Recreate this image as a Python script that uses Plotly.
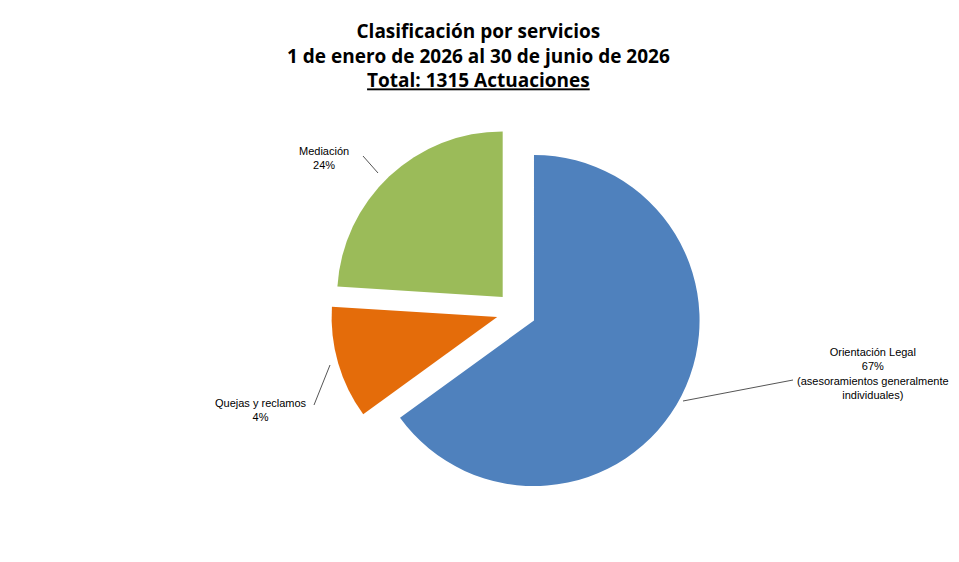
import plotly.graph_objects as go

categories = ["Orientación Legal", "Quejas y reclamos", "Mediación"]
values = [65, 11, 24]
label_text = ["Orientación Legal<br>67%<br>(asesoramientos generalmente<br>individuales)",
              "Quejas y reclamos<br>4%", "Mediación<br>24%"]
colors = ["#4F81BD", "#E46C0A", "#9BBB59"]

W, H = 959, 562
def px(x, y):
    return x / W, 1 - y / H

fig = go.Figure(go.Pie(
    labels=categories, values=values, sort=False, direction="clockwise", rotation=0,
    marker=dict(colors=colors), pull=[0.12, 0.12, 0.12], textinfo="none", hoverinfo="label+percent",
    showlegend=False, domain=dict(x=[0.33, 0.73], y=[0.13, 0.79])))

font = dict(family="Liberation Sans, Arial", size=11, color="#000")
fig.update_layout(width=W, height=H, paper_bgcolor="white", margin=dict(l=0, r=0, t=0, b=0))
tx, ty = px(470, 8)
fig.add_annotation(x=tx, y=ty, xref="paper", yref="paper", xanchor="center", yanchor="top", showarrow=False,
                   text="<b>Clasificación por servicios<br>1 de enero de 2026 al 30 de junio de 2026<br><u>Total: 1315 Actuaciones</u></b>",
                   font=dict(family="Open Sans, Liberation Sans", size=19, color="#000"))
for (cx, cy), t in zip([(865, 365), (253, 402), (316, 150)], label_text):
    x, y = px(cx, cy)
    fig.add_annotation(x=x, y=y, xref="paper", yref="paper", xanchor="center", yanchor="middle",
                       text=t, showarrow=False, font=font, align="center")
for (x0, y0, x1, y1) in [(675, 393, 785, 372), (306, 397, 322, 357), (355, 148, 370, 165)]:
    a, b = px(x0, y0); c, d = px(x1, y1)
    fig.add_shape(type="line", xref="paper", yref="paper", x0=a, y0=b, x1=c, y1=d, line=dict(color="#555", width=1))
fig.write_html("out.html")
